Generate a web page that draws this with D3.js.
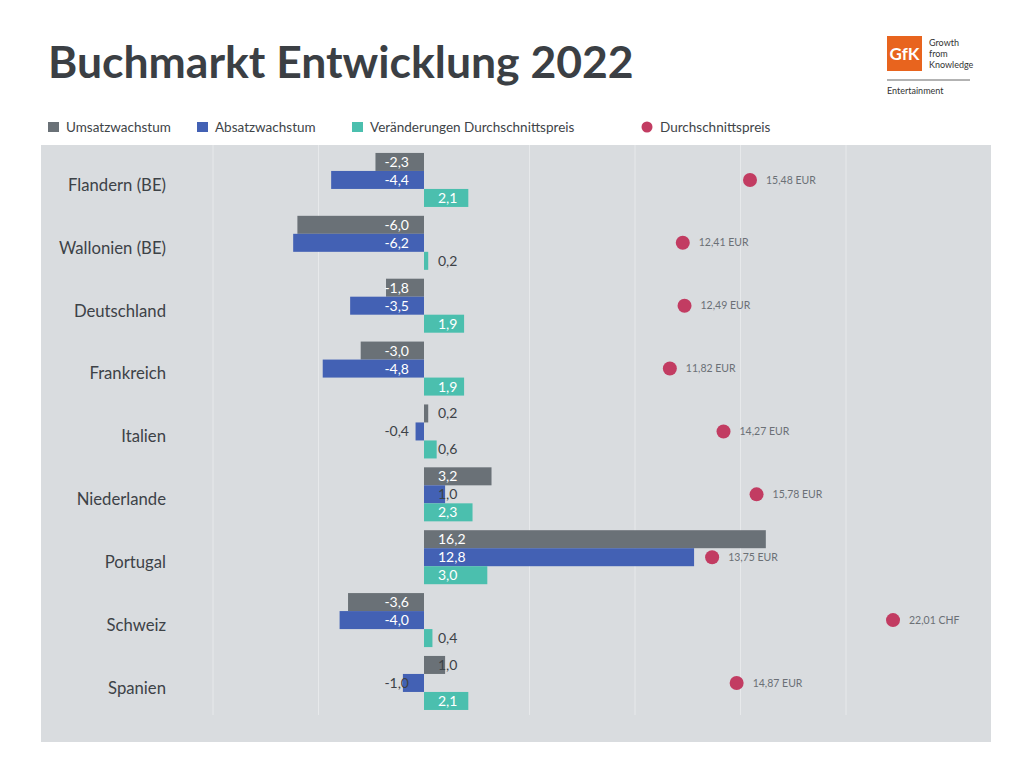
<!DOCTYPE html>
<html>
<head>
<meta charset="utf-8">
<script src="https://cdn.jsdelivr.net/npm/d3@7"></script>
<style>
  body { margin: 0; background: #fff; }
  text { font-family: Lato, "Open Sans", sans-serif; }
</style>
</head>
<body>
<svg width="1033" height="768"></svg>
<script>
var categories = ["Flandern (BE)", "Wallonien (BE)", "Deutschland", "Frankreich", "Italien",
                  "Niederlande", "Portugal", "Schweiz", "Spanien"];
var umsatz = [-2.3, -6.0, -1.8, -3.0, 0.2, 3.2, 16.2, -3.6, 1.0];
var absatz = [-4.4, -6.2, -3.5, -4.8, -0.4, 1.0, 12.8, -4.0, -1.0];
var preisAenderung = [2.1, 0.2, 1.9, 1.9, 0.6, 2.3, 3.0, 0.4, 2.1];
var preis = [15.48, 12.41, 12.49, 11.82, 14.27, 15.78, 13.75, 22.01, 14.87];
var waehrung = ["EUR", "EUR", "EUR", "EUR", "EUR", "EUR", "EUR", "CHF", "EUR"];
var gridTicks = [-10, -5, 0, 5, 10, 15, 20];

var seriesNames = ["Umsatzwachstum", "Absatzwachstum", "Veränderungen Durchschnittspreis"];
var seriesColors = ["#6a7177", "#4361b4", "#4bbfae"];
var dotColor = "#c23c62";

var svg = d3.select("svg");

var de = d3.formatLocale({ decimal: ",", thousands: ".", grouping: [3], currency: ["", " €"], minus: "-" });
var fmt1 = de.format(".1f"), fmt2 = de.format(".2f");

// title
svg.append("text")
    .attr("x", 48).attr("y", 78)
    .style("font-size", "44.5px").style("font-weight", "bold")
    .style("fill", "#3b3f44")
    .text("Buchmarkt Entwicklung 2022");

// logo
var logo = svg.append("g");
logo.append("rect").attr("x", 887).attr("y", 36).attr("width", 35).attr("height", 35).style("fill", "#e8641e");
logo.append("text").attr("x", 904.5).attr("y", 60).attr("text-anchor", "middle")
    .style("font-size", "17px").style("font-weight", "bold").style("fill", "#fff").text("GfK");
["Growth", "from", "Knowledge"].forEach(function(t, i) {
    logo.append("text").attr("x", 929).attr("y", 46 + i * 11)
        .style("font-size", "9px").style("fill", "#333").text(t);
});
logo.append("line").attr("x1", 887).attr("x2", 970).attr("y1", 80).attr("y2", 80)
    .style("stroke", "#666").style("stroke-width", 1);
logo.append("text").attr("x", 887).attr("y", 94)
    .style("font-size", "9px").style("fill", "#333").text("Entertainment");

// legend
var legend = svg.append("g");
var legendX = [48, 197, 352];
seriesNames.forEach(function(name, i) {
    legend.append("rect").attr("x", legendX[i]).attr("y", 122).attr("width", 11).attr("height", 10)
        .style("fill", seriesColors[i]);
    legend.append("text").attr("x", legendX[i] + 18).attr("y", 127).attr("dy", "0.35em")
        .style("font-size", "13.5px").style("fill", "#404448").text(name);
});
legend.append("circle").attr("cx", 647).attr("cy", 127).attr("r", 5.5).style("fill", dotColor);
legend.append("text").attr("x", 660).attr("y", 127).attr("dy", "0.35em")
    .style("font-size", "13.5px").style("fill", "#404448").text("Durchschnittspreis");

// plot background
svg.append("rect").attr("x", 41).attr("y", 145).attr("width", 950).attr("height", 597)
    .style("fill", "#d9dcdf");

var x = d3.scaleLinear().domain([-10, 20]).range([213, 846]);
var xPreis = d3.scaleLinear().domain([10, 20]).range([630, 849]);
var y = d3.scaleBand().domain(categories).range([148.5, 714.4]).paddingInner(0.141).paddingOuter(0.0706);
var ySub = d3.scaleBand().domain([0, 1, 2]).range([0, y.bandwidth()]);

svg.append("g").selectAll("line")
    .data(gridTicks.filter(function(d) { return d !== 0; }))
    .enter().append("line")
    .attr("x1", function(d) { return x(d); }).attr("x2", function(d) { return x(d); })
    .attr("y1", 145).attr("y2", 715)
    .style("stroke", "#e7e9eb").style("stroke-width", 1);

// category labels
svg.append("g").selectAll("text")
    .data(categories)
    .enter().append("text")
    .attr("x", 166)
    .attr("y", function(d) { return y(d) + y.bandwidth() / 2 + 5; })
    .attr("dy", "0.35em")
    .attr("text-anchor", "end")
    .style("font-size", "16.7px").style("fill", "#3d4247")
    .text(function(d) { return d; });

var series = [umsatz, absatz, preisAenderung];
var barData = [];
categories.forEach(function(c, i) {
    series.forEach(function(s, k) {
        barData.push({ cat: c, k: k, v: s[i] });
    });
});

svg.append("g").selectAll("rect")
    .data(barData)
    .enter().append("rect")
    .attr("x", function(d) { return x(Math.min(0, d.v)); })
    .attr("width", function(d) { return Math.abs(x(d.v) - x(0)); })
    .attr("y", function(d) { return y(d.cat) + ySub(d.k); })
    .attr("height", ySub.bandwidth())
    .style("fill", function(d) { return seriesColors[d.k]; });

svg.append("g").selectAll("text")
    .data(barData)
    .enter().append("text")
    .attr("x", function(d) { return d.v < 0 ? x(0) - 15 : x(0) + 14; })
    .attr("y", function(d) { return y(d.cat) + ySub(d.k) + ySub.bandwidth() / 2; })
    .attr("dy", "0.36em")
    .attr("text-anchor", function(d) { return d.v < 0 ? "end" : "start"; })
    .style("font-size", "14px")
    .style("fill", function(d) { return Math.abs(d.v) >= 1.5 ? "#fff" : "#3d4247"; })
    .text(function(d) { return fmt1(d.v); });

// average price dots
var dots = svg.append("g").selectAll("g")
    .data(categories)
    .enter().append("g");
dots.append("circle")
    .attr("cx", function(d, i) { return xPreis(preis[i]); })
    .attr("cy", function(d) { return y(d) + y.bandwidth() / 2; })
    .attr("r", 7)
    .style("fill", dotColor);
dots.append("text")
    .attr("x", function(d, i) { return xPreis(preis[i]) + 16; })
    .attr("y", function(d) { return y(d) + y.bandwidth() / 2; })
    .attr("dy", "0.35em")
    .style("font-size", "10.5px").style("fill", "#6b7076")
    .text(function(d, i) { return fmt2(preis[i]) + " " + waehrung[i]; });
</script>
</body>
</html>
